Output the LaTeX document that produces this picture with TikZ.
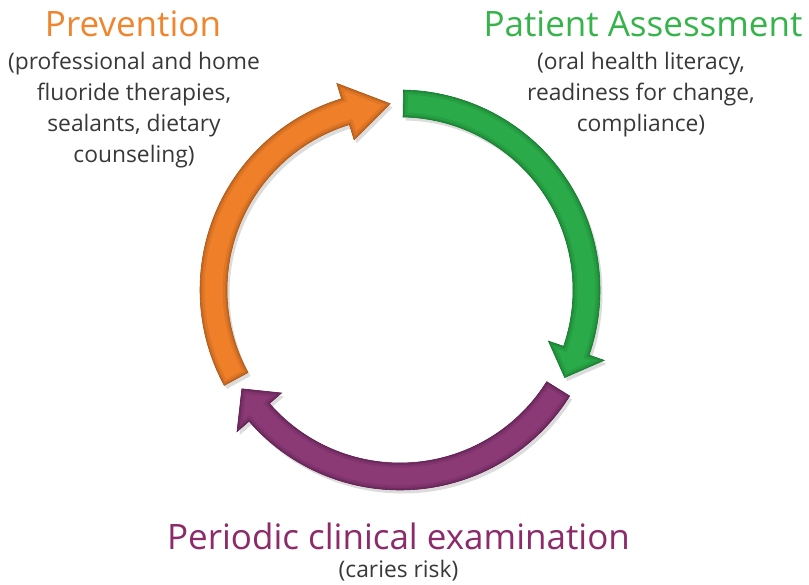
\documentclass[tikz,border=0pt]{standalone}
\usepackage{fontspec}
\setmainfont{Open Sans}
\usetikzlibrary{shadows}
\definecolor{orA}{HTML}{EF8029}
\definecolor{orD}{HTML}{A8561A}
\definecolor{grA}{HTML}{2BAA4A}
\definecolor{grD}{HTML}{16782E}
\definecolor{puA}{HTML}{8B3A76}
\definecolor{puD}{HTML}{5C1F4E}
\definecolor{orT}{HTML}{F0852E}
\definecolor{grT}{HTML}{36B34A}
\definecolor{puT}{HTML}{8C2A6A}
\definecolor{bodyT}{HTML}{383838}
\newcommand{\arrowshape}[3]{(#1:200pt) arc[start angle=#1, end angle=#2, radius=200pt] -- (#2:216pt) -- (#3:186.5pt) -- (#2:157pt) -- (#2:173pt) arc[start angle=#2, end angle=#1, radius=173pt] -- cycle}
\newcommand{\cyclearrow}[5]{%
  \fill[#4, drop shadow={opacity=0.28, shadow xshift=2.5pt, shadow yshift=-3.5pt}] \arrowshape{#1}{#2}{#3};
  \begin{scope}
    \clip \arrowshape{#1}{#2}{#3};
    \draw[#5, line width=9pt, opacity=0.22] \arrowshape{#1}{#2}{#3};
    \draw[#5, line width=4pt, opacity=0.4] \arrowshape{#1}{#2}{#3};
  \end{scope}
  \draw[#5, line width=0.6pt] \arrowshape{#1}{#2}{#3};
}
\tikzset{
  title/.style={font=\fontsize{35}{40}\selectfont, anchor=base, inner sep=0pt},
  body/.style={font=\fontsize{22.8}{31}\selectfont, text=bodyT, anchor=base, inner sep=0pt}
}
\begin{document}
\begin{tikzpicture}[x=1pt,y=1pt]
\useasboundingbox (0,0) rectangle (809,585);
\begin{scope}[shift={(400,295)}]
  \cyclearrow{89}{-19}{-28}{grA}{grD}
  \cyclearrow{-32}{-139}{-148}{puA}{puD}
  \cyclearrow{208.5}{107}{93}{orA}{orD}
\end{scope}
% Prevention
\node[title, text=orT] (prevT) at (133,548) {Prevention};
\node[body] (prev1) at (134,515) {(professional and home};
\node[body] (prev2) at (134,484) {fluoride therapies,};
\node[body] (prev3) at (134,453) {sealants, dietary};
\node[body] (prev4) at (134,422) {counseling)};
% Patient Assessment
\node[title, text=grT] (patT) at (643,548) {Patient Assessment};
\node[body] (pat1) at (641,515) {(oral health literacy,};
\node[body] (pat2) at (641,484) {readiness for change,};
\node[body] (pat3) at (641,453) {compliance)};
% Periodic
\node[title, text=puT] (perT) at (398.5,35) {Periodic clinical examination};
\node[body] (per1) at (398.5,7) {(caries risk)};
\end{tikzpicture}
\end{document}
